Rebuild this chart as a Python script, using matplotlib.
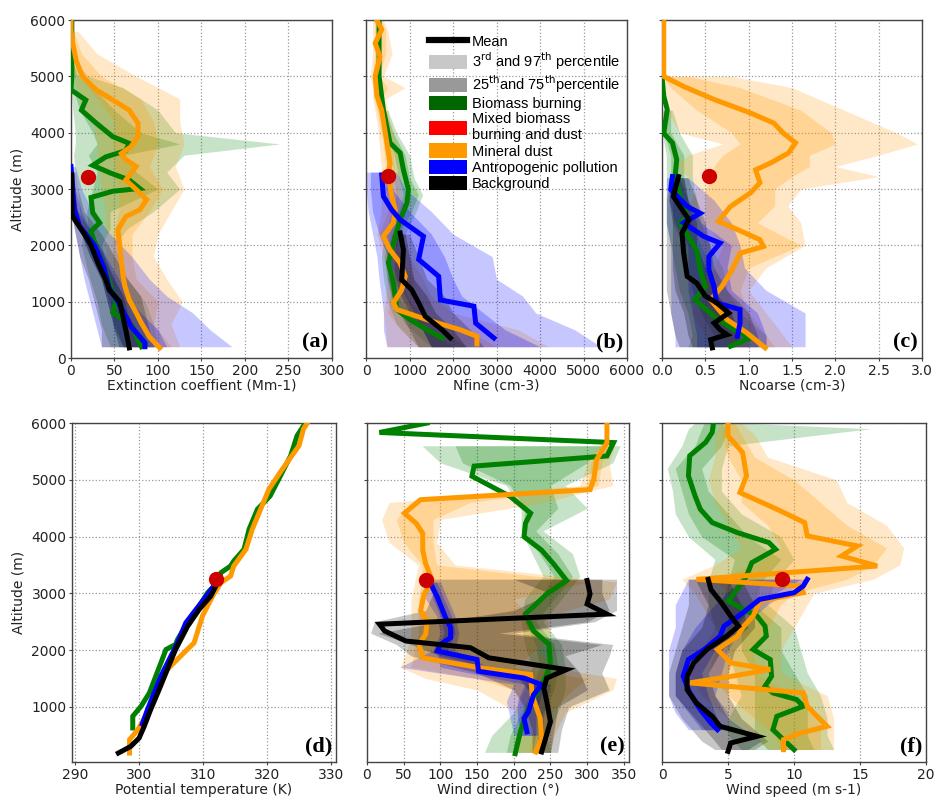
import matplotlib
matplotlib.use('Agg')
import matplotlib.pyplot as plt
from matplotlib.patches import Patch
from matplotlib.lines import Line2D

# ---------------- colours ----------------
COL_BB = '#008000'
COL_MD = '#ff9900'
COL_AP = '#0000ff'
COL_BG = '#000000'
COL_MIX = '#cc0000'

# ================= Panel (a): extinction coefficient (Mm-1) =================
A_BB_ALT = [200, 350, 560, 810, 1000, 1300, 1600, 1900, 2250, 2400, 2580, 2850, 2960, 3010, 3160, 3280, 3420, 3570, 3680, 3810, 3930, 4170, 4400, 4580, 4760, 5000, 5500, 6000]
A_BB_VAL = [81, 76, 71, 48, 52, 45, 38, 30, 23, 33, 25, 23, 48, 79, 67, 46, 25, 40, 63, 67, 48, 29, 12, 17, 0, 1, 1, 1]
A_MD_ALT = [180, 380, 620, 860, 1030, 1270, 1450, 1690, 2000, 2280, 2510, 2630, 2810, 2990, 3160, 3280, 3400, 3520, 3630, 3750, 3930, 4170, 4400, 4580, 4760, 5000, 5280, 5590, 5820, 6000]
A_MD_VAL = [102, 90, 81, 73, 67, 62, 60, 58, 56, 54, 63, 79, 87, 75, 63, 69, 75, 63, 58, 69, 77, 77, 67, 48, 29, 13, 6, 2, 0, 0]
A_AP_ALT = [200, 270, 560, 1000, 1240, 1600, 2000, 2340, 2630, 2990, 3400]
A_AP_VAL = [85, 85, 69, 54, 44, 38, 27, 10, 4, 2, 0]
A_BG_ALT = [180, 500, 860, 1000, 1210, 1390, 1690, 2000, 2160, 2510, 2870, 3250]
A_BG_VAL = [67, 63, 58, 56, 44, 40, 31, 23, 17, 2, 1, 1]
A_MIX = (20, 3210)

A_BB_BALT = [200, 600, 1000, 1500, 2000, 2300, 2600, 3000, 3300, 3600, 3800, 4000, 4400, 4800, 5000, 5200]
A_BB_P3 = [45, 35, 30, 20, 12, 15, 10, 8, 5, 3, 5, 5, 2, 0, 0, 0]
A_BB_P25 = [60, 50, 45, 32, 20, 20, 18, 25, 30, 20, 30, 25, 10, 2, 0, 0]
A_BB_P75 = [90, 80, 65, 45, 35, 45, 45, 100, 75, 60, 125, 80, 50, 25, 8, 3]
A_BB_P97 = [100, 95, 85, 60, 50, 65, 95, 125, 110, 130, 240, 120, 100, 60, 20, 8]
A_MD_BALT = [200, 600, 1000, 1400, 1800, 2200, 2600, 3000, 3400, 3800, 4200, 4600, 5000, 5400, 5800]
A_MD_P3 = [70, 60, 50, 45, 40, 40, 40, 35, 30, 30, 25, 10, 3, 0, 0]
A_MD_P25 = [90, 70, 60, 52, 48, 48, 55, 55, 50, 50, 50, 30, 10, 3, 0]
A_MD_P75 = [115, 95, 100, 75, 70, 70, 90, 105, 90, 100, 95, 80, 35, 12, 3]
A_MD_P97 = [125, 115, 128, 110, 95, 100, 115, 130, 120, 130, 125, 125, 75, 30, 8]
A_AP_BALT = [200, 500, 800, 1100, 1400, 1800, 2200, 2600, 3000, 3400]
A_AP_P3 = [35, 30, 25, 20, 15, 10, 5, 0, 0, 0]
A_AP_P25 = [60, 50, 45, 40, 35, 22, 12, 3, 0, 0]
A_AP_P75 = [110, 100, 80, 65, 55, 40, 25, 12, 5, 2]
A_AP_P97 = [185, 160, 140, 110, 90, 70, 45, 25, 12, 5]
A_BG_BALT = [200, 500, 800, 1100, 1400, 1800, 2200, 2600, 3000, 3300]
A_BG_P3 = [35, 35, 30, 25, 20, 10, 5, 0, 0, 0]
A_BG_P25 = [55, 50, 45, 40, 35, 22, 12, 2, 0, 0]
A_BG_P75 = [80, 75, 65, 60, 50, 38, 25, 8, 3, 2]
A_BG_P97 = [95, 90, 85, 80, 65, 50, 35, 15, 8, 5]

# ================= Panel (b): Nfine (cm-3) =================
B_BB_ALT = [355, 500, 680, 860, 1100, 1330, 1690, 2040, 2455, 2750, 2990, 3340, 3640, 3820, 4400, 5000, 5600, 6000]
B_BB_VAL = [1750, 1400, 1015, 710, 670, 630, 515, 630, 785, 940, 975, 860, 785, 550, 400, 300, 300, 300]
B_MD_ALT = [250, 385, 500, 680, 860, 980, 1210, 1450, 1690, 1920, 2160, 2400, 2630, 2870, 3220, 3460, 3820, 4400, 4650, 5000, 5350, 5590, 5830, 6000]
B_MD_VAL = [2550, 2550, 2170, 1400, 710, 630, 820, 900, 780, 550, 400, 630, 670, 590, 515, 550, 480, 360, 250, 210, 320, 210, 360, 246]
B_AP_ALT = [355, 620, 920, 1030, 1450, 1750, 2160, 2455, 2630, 2870, 3250]
B_AP_VAL = [2940, 2520, 2480, 1710, 1670, 1210, 1320, 785, 590, 400, 360]
B_BG_ALT = [355, 500, 740, 980, 1210, 1390, 1920, 2220]
B_BG_VAL = [1940, 1750, 1360, 1210, 1050, 820, 860, 785]
B_MIX = (515, 3225)

B_BB_BALT = [200, 600, 1000, 1400, 1800, 2200, 2600, 2900, 3200, 3600, 4000, 4400]
B_BB_P3 = [1200, 700, 500, 400, 350, 450, 600, 700, 650, 550, 400, 300]
B_BB_P25 = [1500, 900, 600, 480, 420, 550, 750, 850, 750, 650, 480, 350]
B_BB_P75 = [2000, 1300, 800, 650, 650, 750, 1050, 1200, 1000, 900, 620, 450]
B_BB_P97 = [2300, 1600, 1000, 800, 800, 900, 1150, 1300, 1100, 1000, 700, 500]
B_MD_BALT = [200, 500, 800, 1100, 1400, 1800, 2200, 2600, 3000, 3400, 3800, 4200, 4600, 4800, 5000, 5400, 5800, 6000]
B_MD_P3 = [480, 450, 400, 450, 500, 400, 250, 350, 350, 350, 300, 250, 150, 150, 100, 150, 150, 150]
B_MD_P25 = [1200, 800, 500, 550, 650, 500, 300, 500, 450, 450, 400, 300, 200, 200, 150, 200, 200, 200]
B_MD_P75 = [3000, 2300, 1200, 1100, 1100, 800, 600, 800, 700, 650, 600, 450, 350, 500, 300, 450, 450, 350]
B_MD_P97 = [4200, 3500, 2000, 1500, 1300, 1000, 800, 900, 800, 750, 700, 550, 450, 900, 400, 600, 500, 400]
B_AP_BALT = [200, 500, 800, 1100, 1400, 1800, 2200, 2600, 3000, 3300]
B_AP_P3 = [480, 400, 400, 350, 300, 250, 150, 50, 0, 0]
B_AP_P25 = [1500, 1300, 1100, 900, 700, 500, 300, 150, 100, 100]
B_AP_P75 = [4000, 3200, 2700, 2200, 2000, 1800, 1500, 1000, 600, 500]
B_AP_P97 = [5400, 4800, 3900, 3600, 3000, 2900, 2000, 1500, 900, 700]
B_BG_BALT = [200, 500, 800, 1100, 1400, 1800, 2200]
B_BG_P3 = [1200, 1000, 800, 600, 500, 500, 600]
B_BG_P25 = [1500, 1300, 1000, 800, 650, 650, 700]
B_BG_P75 = [2300, 2000, 1600, 1400, 1100, 1000, 900]
B_BG_P97 = [2700, 2400, 2000, 1800, 1400, 1200, 1000]

# ================= Panel (c): Ncoarse (cm-3) =================
C_BB_ALT = [210, 355, 500, 740, 1035, 1270, 1570, 1920, 2040, 2400, 2510, 2870, 3220, 3520, 3820, 3990, 4410, 4650, 5000, 6000]
C_BB_VAL = [0.79, 1.02, 0.83, 0.60, 0.38, 0.50, 0.44, 0.40, 0.35, 0.21, 0.29, 0.21, 0.15, 0.17, 0.12, 0.02, 0.06, 0.02, 0.0, 0.0]
C_MD_ALT = [180, 445, 680, 1035, 1270, 1570, 1860, 1980, 2100, 2280, 2430, 2690, 2930, 3110, 3340, 3460, 3640, 3820, 3990, 4170, 4350, 4590, 4820, 5000, 6000]
C_MD_VAL = [1.19, 0.98, 0.75, 0.56, 0.69, 0.81, 0.90, 1.17, 1.13, 0.87, 0.65, 0.79, 1.02, 1.13, 1.08, 1.25, 1.46, 1.54, 1.40, 1.29, 1.02, 0.60, 0.25, 0.02, 0.02]
C_AP_ALT = [385, 620, 860, 980, 1270, 1570, 1800, 2040, 2160, 2400, 2570, 2690, 2990, 3220]
C_AP_VAL = [0.87, 0.90, 0.90, 0.63, 0.60, 0.54, 0.54, 0.67, 0.48, 0.25, 0.44, 0.29, 0.10, 0.12]
C_BG_ALT = [180, 325, 415, 500, 620, 800, 980, 1100, 1330, 1450, 1860, 2220, 2455, 2870, 3220]
C_BG_VAL = [0.58, 0.56, 0.75, 0.67, 0.60, 0.77, 0.63, 0.50, 0.40, 0.29, 0.25, 0.23, 0.31, 0.13, 0.19]
C_MIX = (0.54, 3225)

C_BB_BALT = [200, 400, 800, 1200, 1600, 2000, 2400, 2800, 3200, 3600, 4000, 4400]
C_BB_P3 = [0.3, 0.35, 0.3, 0.2, 0.15, 0.1, 0.05, 0.05, 0.05, 0.05, 0.0, 0.0]
C_BB_P25 = [0.5, 0.6, 0.45, 0.35, 0.3, 0.25, 0.12, 0.12, 0.1, 0.1, 0.02, 0.02]
C_BB_P75 = [1.0, 1.0, 0.75, 0.6, 0.55, 0.45, 0.35, 0.3, 0.25, 0.25, 0.1, 0.1]
C_BB_P97 = [1.2, 1.2, 0.9, 0.75, 0.7, 0.55, 0.45, 0.4, 0.35, 0.35, 0.2, 0.12]
C_MD_BALT = [200, 400, 800, 1200, 1600, 2000, 2400, 2700, 3000, 3220, 3400, 3600, 3800, 4000, 4400, 4800, 5000]
C_MD_P3 = [0.6, 0.5, 0.35, 0.4, 0.5, 0.45, 0.35, 0.3, 0.4, 0.3, 0.15, 0.3, 0.7, 0.2, 0.05, 0.0, 0.0]
C_MD_P25 = [0.8, 0.7, 0.5, 0.5, 0.6, 0.7, 0.5, 0.5, 0.5, 0.6, 0.6, 0.7, 0.9, 0.8, 0.4, 0.1, 0.0]
C_MD_P75 = [1.3, 1.2, 1.0, 0.9, 1.0, 1.6, 1.1, 1.3, 1.3, 1.5, 1.7, 1.7, 2.0, 1.95, 1.6, 0.9, 0.3]
C_MD_P97 = [1.5, 1.4, 1.2, 1.0, 1.2, 1.65, 1.6, 1.45, 1.6, 2.5, 2.0, 2.5, 2.95, 2.7, 2.1, 1.5, 0.8]
C_AP_BALT = [200, 400, 800, 1200, 1600, 2000, 2400, 2800, 3200]
C_AP_P3 = [0.15, 0.15, 0.1, 0.1, 0.1, 0.1, 0.05, 0.05, 0.05]
C_AP_P25 = [0.4, 0.4, 0.35, 0.3, 0.3, 0.3, 0.15, 0.08, 0.08]
C_AP_P75 = [1.2, 1.2, 1.1, 0.8, 0.75, 0.8, 0.45, 0.3, 0.2]
C_AP_P97 = [1.65, 1.65, 1.65, 1.2, 0.95, 0.9, 0.8, 0.6, 0.3]
C_BG_BALT = [200, 400, 800, 1200, 1600, 2000, 2400, 2800, 3200]
C_BG_P3 = [0.2, 0.15, 0.1, 0.05, 0.05, 0.05, 0.05, 0.05, 0.1]
C_BG_P25 = [0.35, 0.3, 0.25, 0.15, 0.12, 0.12, 0.12, 0.08, 0.12]
C_BG_P75 = [0.85, 0.9, 0.8, 0.6, 0.5, 0.4, 0.4, 0.3, 0.25]
C_BG_P97 = [1.1, 1.1, 1.0, 0.75, 0.6, 0.55, 0.5, 0.4, 0.3]

# ================= Panel (d): potential temperature (K) =================
D_BB_ALT = [630, 835, 1012, 1247, 1541, 1776, 2012, 2100, 2188, 2482, 2718, 3012, 3188, 3365, 3482, 3570, 3776, 4130, 4482, 4718, 5071, 5424, 5776, 6000]
D_BB_VAL = [299.0, 299.0, 300.3, 301.6, 302.6, 303.4, 304.2, 305.7, 306.0, 307.6, 309.1, 310.7, 312.2, 312.8, 314.3, 314.8, 316.4, 317.2, 318.5, 320.5, 322.1, 323.7, 324.7, 326.0]
D_MD_ALT = [188, 424, 600, 953, 1247, 1659, 1953, 2130, 2600, 2953, 3188, 3306, 3482, 3776, 4130, 4482, 4835, 5188, 5600, 5894, 6000]
D_MD_VAL = [298.5, 298.5, 299.8, 301.6, 302.9, 304.4, 307.0, 308.6, 309.9, 311.5, 312.8, 314.3, 314.8, 316.7, 317.7, 319.0, 320.3, 322.4, 325.0, 325.7, 326.3]
D_AP_ALT = [700, 953, 1541, 2130, 2482, 2835, 3130, 3218]
D_AP_VAL = [300.5, 301.3, 303.4, 306.0, 307.3, 309.7, 311.7, 312.2]
D_BG_ALT = [188, 306, 453, 660, 953, 1247, 1659, 2012, 2424, 2718, 2953, 3130, 3218]
D_BG_VAL = [296.75, 298.7, 300.0, 300.8, 301.8, 302.9, 304.4, 305.7, 307.6, 309.4, 311.2, 312.0, 312.2]
D_MIX = (312.0, 3259)

# ================= Panel (e): wind direction (deg) =================
E_BB_ALT = [177, 562, 917, 1509, 1746, 2102, 2339, 2635, 2990, 3227, 3524, 3761, 3998, 4235, 4412, 4709, 5064, 5242, 5420, 5656, 5834, 6000]
E_BB_VAL = [202, 209, 218, 243, 250, 248, 227, 216, 245, 272, 254, 238, 214, 216, 223, 195, 143, 146, 327, 336, 17, 82]
E_MD_ALT = [207, 444, 799, 1213, 1569, 1687, 1865, 2102, 2280, 2517, 2694, 2990, 3227, 3524, 3761, 4057, 4235, 4412, 4650, 4827, 5005, 5360, 5656, 6000]
E_MD_VAL = [230, 238, 236, 225, 223, 155, 76, 71, 80, 82, 73, 78, 89, 80, 76, 76, 67, 51, 73, 304, 309, 313, 327, 327]
E_AP_ALT = [562, 799, 917, 1213, 1391, 1509, 1628, 1835, 1984, 2102, 2220, 2398, 2576, 2931, 3168]
E_AP_VAL = [218, 214, 220, 227, 238, 214, 152, 150, 96, 100, 114, 114, 107, 96, 87]
E_BG_ALT = [207, 740, 1095, 1332, 1509, 1658, 1865, 2043, 2161, 2339, 2457, 2635, 2812, 2990, 3227]
E_BG_VAL = [238, 250, 245, 241, 245, 272, 166, 141, 53, 24, 17, 327, 300, 304, 300]
E_MIX = (80, 3227)

E_BB_BALT = [200, 500, 900, 1300, 1700, 2100, 2500, 2900, 3300, 3700, 4100, 4500, 4900, 5300, 5600]
E_BB_P3 = [160, 170, 200, 215, 225, 215, 210, 215, 240, 225, 210, 210, 190, 100, 75]
E_BB_P25 = [190, 195, 210, 225, 235, 230, 215, 235, 255, 235, 212, 215, 195, 130, 120]
E_BB_P75 = [225, 230, 240, 255, 260, 255, 230, 255, 280, 260, 230, 260, 250, 300, 320]
E_BB_P97 = [250, 245, 260, 270, 270, 265, 240, 265, 290, 280, 240, 300, 270, 335, 345]
E_MD_BALT = [200, 500, 900, 1300, 1500, 1700, 2000, 2300, 2600, 2900, 3200, 3500, 3900, 4300, 4600, 4900, 5300, 5700]
E_MD_P3 = [200, 210, 205, 150, 80, 45, 55, 60, 60, 60, 65, 70, 30, 20, 30, 290, 300, 320]
E_MD_P25 = [220, 225, 215, 200, 150, 60, 65, 70, 70, 70, 75, 75, 50, 40, 60, 300, 305, 325]
E_MD_P75 = [240, 245, 250, 280, 300, 200, 230, 230, 220, 200, 300, 95, 90, 90, 140, 315, 320, 335]
E_MD_P97 = [250, 255, 270, 335, 340, 250, 235, 250, 245, 330, 340, 120, 95, 100, 240, 335, 330, 340]
E_AP_BALT = [500, 800, 1100, 1400, 1700, 2000, 2300, 2600, 2900, 3200]
E_AP_P3 = [200, 195, 190, 200, 45, 90, 100, 95, 80, 80]
E_AP_P25 = [210, 205, 205, 215, 100, 95, 105, 100, 90, 85]
E_AP_P75 = [230, 230, 235, 240, 160, 110, 120, 115, 105, 95]
E_AP_P97 = [240, 240, 245, 250, 165, 120, 125, 120, 110, 100]
E_BG_BALT = [200, 600, 1000, 1300, 1600, 1900, 2100, 2300, 2500, 2700, 3000, 3250]
E_BG_P3 = [225, 225, 215, 200, 150, 60, 40, 5, 10, 80, 90, 75]
E_BG_P25 = [230, 235, 230, 220, 200, 100, 60, 15, 100, 200, 250, 200]
E_BG_P75 = [250, 255, 260, 300, 290, 270, 320, 180, 300, 330, 320, 320]
E_BG_P97 = [260, 265, 275, 330, 320, 330, 335, 200, 310, 340, 340, 340]

# ================= Panel (f): wind speed (m s-1) =================
F_BB_ALT = [247, 424, 600, 835, 1012, 1130, 1247, 1365, 1541, 1835, 2012, 2247, 2424, 2600, 2718, 2865, 3071, 3306, 3541, 3776, 3894, 4071, 4247, 4482, 4718, 5071, 5424, 5659, 5835, 6000]
F_BB_VAL = [10.0, 9.2, 8.4, 8.7, 10.7, 10.2, 8.4, 7.8, 8.3, 8.2, 6.9, 7.9, 7.8, 7.2, 6.2, 5.0, 5.7, 6.4, 6.8, 8.6, 8.1, 5.7, 3.8, 2.9, 2.5, 2.0, 2.1, 3.3, 3.8, 3.9]
F_MD_ALT = [247, 424, 541, 659, 1012, 1247, 1424, 1541, 1659, 1776, 2012, 2247, 2424, 2600, 2865, 3012, 3130, 3247, 3482, 3659, 3835, 4012, 4247, 4482, 4776, 5071, 5482, 5776, 6000]
F_MD_VAL = [9.2, 9.2, 10.5, 12.5, 11.0, 10.7, 2.1, 5.3, 8.2, 5.2, 4.2, 5.7, 6.2, 6.9, 7.4, 10.7, 10.5, 2.6, 16.3, 13.6, 14.8, 11.0, 10.8, 8.7, 5.9, 6.4, 6.1, 5.0, 5.0]
F_AP_ALT = [600, 718, 953, 1247, 1541, 1835, 2012, 2247, 2424, 2600, 2894, 3012, 3130, 3247]
F_AP_VAL = [4.2, 3.7, 2.9, 2.1, 1.6, 2.0, 3.2, 4.4, 4.7, 5.8, 7.4, 10.0, 10.7, 11.0]
F_BG_ALT = [218, 365, 482, 659, 835, 1071, 1306, 1541, 1776, 2012, 2247, 2424, 2600, 2835, 3071, 3247]
F_BG_VAL = [5.0, 5.2, 7.2, 4.4, 3.8, 2.6, 1.9, 1.9, 2.4, 3.4, 4.9, 5.8, 5.2, 4.5, 3.7, 3.5]
F_MIX = (9.1, 3259)

F_BB_BALT = [250, 500, 800, 1200, 1600, 2000, 2400, 2800, 3200, 3600, 4000, 4400, 4800, 5200, 5600, 5900, 6000]
F_BB_P3 = [6.0, 5.0, 5.0, 6.0, 5.5, 5.0, 4.0, 3.5, 3.5, 4.0, 2.0, 1.0, 0.8, 0.4, 1.5, 2.0, 2.5]
F_BB_P25 = [8.0, 7.0, 7.0, 7.0, 7.0, 6.0, 6.0, 4.5, 5.0, 5.5, 3.0, 2.0, 1.5, 1.0, 2.5, 3.0, 3.2]
F_BB_P75 = [11.5, 11.0, 11.0, 11.0, 10.0, 9.0, 9.0, 7.0, 7.5, 9.0, 6.5, 5.0, 3.5, 3.0, 4.5, 5.0, 4.5]
F_BB_P97 = [13.0, 12.5, 12.5, 12.0, 11.0, 10.5, 10.0, 8.0, 8.5, 10.0, 9.0, 6.0, 4.5, 4.5, 5.0, 15.8, 6.0]
F_MD_BALT = [250, 500, 800, 1200, 1600, 2000, 2400, 2800, 3000, 3250, 3500, 3800, 4200, 4600, 5000, 5400, 5800, 6000]
F_MD_P3 = [8.0, 7.0, 5.0, 3.0, 2.0, 3.0, 4.0, 3.0, 2.5, 1.5, 4.0, 6.0, 5.0, 4.0, 3.5, 4.0, 4.0, 4.5]
F_MD_P25 = [9.0, 8.5, 7.0, 5.0, 3.5, 4.0, 5.0, 5.0, 5.0, 4.0, 7.0, 9.0, 8.0, 6.0, 6.0, 5.0, 4.5, 4.8]
F_MD_P75 = [12.0, 12.0, 12.0, 10.0, 7.0, 7.0, 8.0, 9.0, 10.0, 14.0, 16.0, 17.0, 14.0, 12.0, 10.0, 7.0, 6.0, 5.5]
F_MD_P97 = [13.0, 13.0, 13.0, 12.5, 9.0, 9.0, 10.0, 11.0, 11.5, 16.0, 18.0, 18.3, 17.0, 14.0, 13.2, 8.0, 7.0, 6.0]
F_AP_BALT = [600, 900, 1200, 1600, 2000, 2400, 2800, 3250]
F_AP_P3 = [2.0, 1.0, 0.5, 0.5, 0.5, 1.0, 1.0, 2.0]
F_AP_P25 = [3.0, 2.0, 1.0, 1.0, 1.5, 2.5, 4.0, 6.0]
F_AP_P75 = [4.5, 4.0, 3.5, 3.0, 4.0, 5.5, 7.0, 10.5]
F_AP_P97 = [5.0, 5.0, 4.0, 4.5, 5.0, 6.0, 8.0, 11.0]
F_BG_BALT = [250, 400, 800, 1200, 1600, 2000, 2400, 2800, 3250]
F_BG_P3 = [4.0, 3.0, 1.5, 0.5, 0.5, 1.0, 1.5, 2.0, 2.0]
F_BG_P25 = [4.5, 4.0, 2.5, 1.0, 1.0, 1.5, 3.0, 3.5, 2.5]
F_BG_P75 = [6.5, 7.5, 5.0, 4.0, 3.5, 4.5, 6.5, 6.0, 5.0]
F_BG_P97 = [7.0, 8.0, 6.0, 5.0, 5.0, 5.5, 7.0, 7.0, 6.0]

# ---------------- axis settings ----------------
XLABELS = ['Extinction coeffient (Mm-1)', 'Nfine (cm-3)', 'Ncoarse (cm-3)',
           'Potential temperature (K)', 'Wind direction (\u00b0)', 'Wind speed (m s-1)']
XLIMS = [(0, 300), (0, 6000), (0, 3.0), (289.5, 330.8), (0, 357), (0, 20)]
XTICKS = [[0, 50, 100, 150, 200, 250, 300],
          [0, 1000, 2000, 3000, 4000, 5000, 6000],
          [0.0, 0.5, 1.0, 1.5, 2.0, 2.5, 3.0],
          [290, 300, 310, 320, 330],
          [0, 50, 100, 150, 200, 250, 300, 350],
          [0, 5, 10, 15, 20]]
PANEL_TAGS = ['(a)', '(b)', '(c)', '(d)', '(e)', '(f)']
YLIMS = [(0, 6000)] * 3 + [(30, 6000)] * 3
YTICKS_TOP = [0, 1000, 2000, 3000, 4000, 5000, 6000]
YTICKS_BOT = [1000, 2000, 3000, 4000, 5000, 6000]

# axes rectangles in figure fraction [left, bottom, width, height]
RECTS = [[0.0760, 0.5508, 0.2794, 0.4241],
         [0.3919, 0.5508, 0.2794, 0.4241],
         [0.7088, 0.5508, 0.2784, 0.4241],
         [0.0771, 0.0439, 0.2827, 0.4253],
         [0.3929, 0.0439, 0.2805, 0.4253],
         [0.7088, 0.0439, 0.2827, 0.4253]]

g = globals()
fig = plt.figure(figsize=(9.34, 7.97), dpi=100)
fig.patch.set_facecolor('white')

series = [('BB', COL_BB), ('MD', COL_MD), ('AP', COL_AP), ('BG', COL_BG)]
for i, p in enumerate('ABCDEF'):
    ax = fig.add_axes(RECTS[i])
    # bands
    for s, c in series:
        key = f'{p}_{s}_BALT'
        if key in g:
            alt = g[key]
            ax.fill_betweenx(alt, g[f'{p}_{s}_P3'], g[f'{p}_{s}_P97'],
                             color=c, alpha=0.22, lw=0, zorder=1)
            ax.fill_betweenx(alt, g[f'{p}_{s}_P25'], g[f'{p}_{s}_P75'],
                             color=c, alpha=0.25, lw=0, zorder=1)
    # mean lines
    for s, c in series:
        ax.plot(g[f'{p}_{s}_VAL'], g[f'{p}_{s}_ALT'], color=c, lw=3.6,
                solid_joinstyle='miter', zorder=3)
    mx, my = g[f'{p}_MIX']
    ax.plot([mx], [my], 'o', color=COL_MIX, ms=10, mec=COL_MIX, zorder=5)

    ax.set_xlim(*XLIMS[i])
    ax.set_ylim(*YLIMS[i])
    ax.set_xticks(XTICKS[i])
    if i == 2:
        ax.set_xticklabels(['0.0', '0.5', '1.0', '1.5', '2.0', '2.5', '3.0'])
    ax.set_yticks(YTICKS_TOP if i < 3 else YTICKS_BOT)
    ax.grid(True, linestyle=':', color='#999999', lw=0.9)
    ax.set_axisbelow(True)
    ax.tick_params(labelsize=10, length=2, pad=2, color='#444444',
                   labelcolor='#222222')
    for sp in ax.spines.values():
        sp.set_color('#444444')
        sp.set_linewidth(1.0)
    if i in (0, 3):
        ax.set_ylabel('Altitude (m)', fontsize=10, color='#222222', labelpad=4)
    else:
        ax.tick_params(axis='y', labelleft=False)
    ax.set_xlabel(XLABELS[i], fontsize=10, color='#222222', labelpad=1)
    ax.text(0.985, 0.015, PANEL_TAGS[i], transform=ax.transAxes, ha='right',
            va='bottom', fontsize=16, fontweight='bold', family='Liberation Serif',
            zorder=6)

    if i == 1:
        handles = [Line2D([0], [0], color='black', lw=4.5),
                   Patch(facecolor='#c8c8c8', edgecolor='none'),
                   Patch(facecolor='#999999', edgecolor='none'),
                   Patch(facecolor='#006600', edgecolor='none'),
                   Patch(facecolor='#ff0000', edgecolor='none'),
                   Patch(facecolor=COL_MD, edgecolor='none'),
                   Patch(facecolor=COL_AP, edgecolor='none'),
                   Patch(facecolor=COL_BG, edgecolor='none')]
        labels = ['Mean',
                  '3$^{\\rm rd}$ and 97$^{\\rm th}$ percentile',
                  '25$^{\\rm th}$and 75$^{\\rm th}$percentile',
                  'Biomass burning',
                  'Mixed biomass\nburning and dust',
                  'Mineral dust',
                  'Antropogenic pollution',
                  'Background']
        leg = ax.legend(handles, labels, loc='upper left',
                        bbox_to_anchor=(0.22, 0.975), frameon=False,
                        prop={'family': 'Liberation Sans', 'size': 10.5},
                        handlelength=2.6, handleheight=1.15, labelspacing=0.07,
                        handletextpad=0.3, borderaxespad=0.0)
        leg.set_zorder(10)

fig.savefig('out.png', dpi=100, facecolor='white')
